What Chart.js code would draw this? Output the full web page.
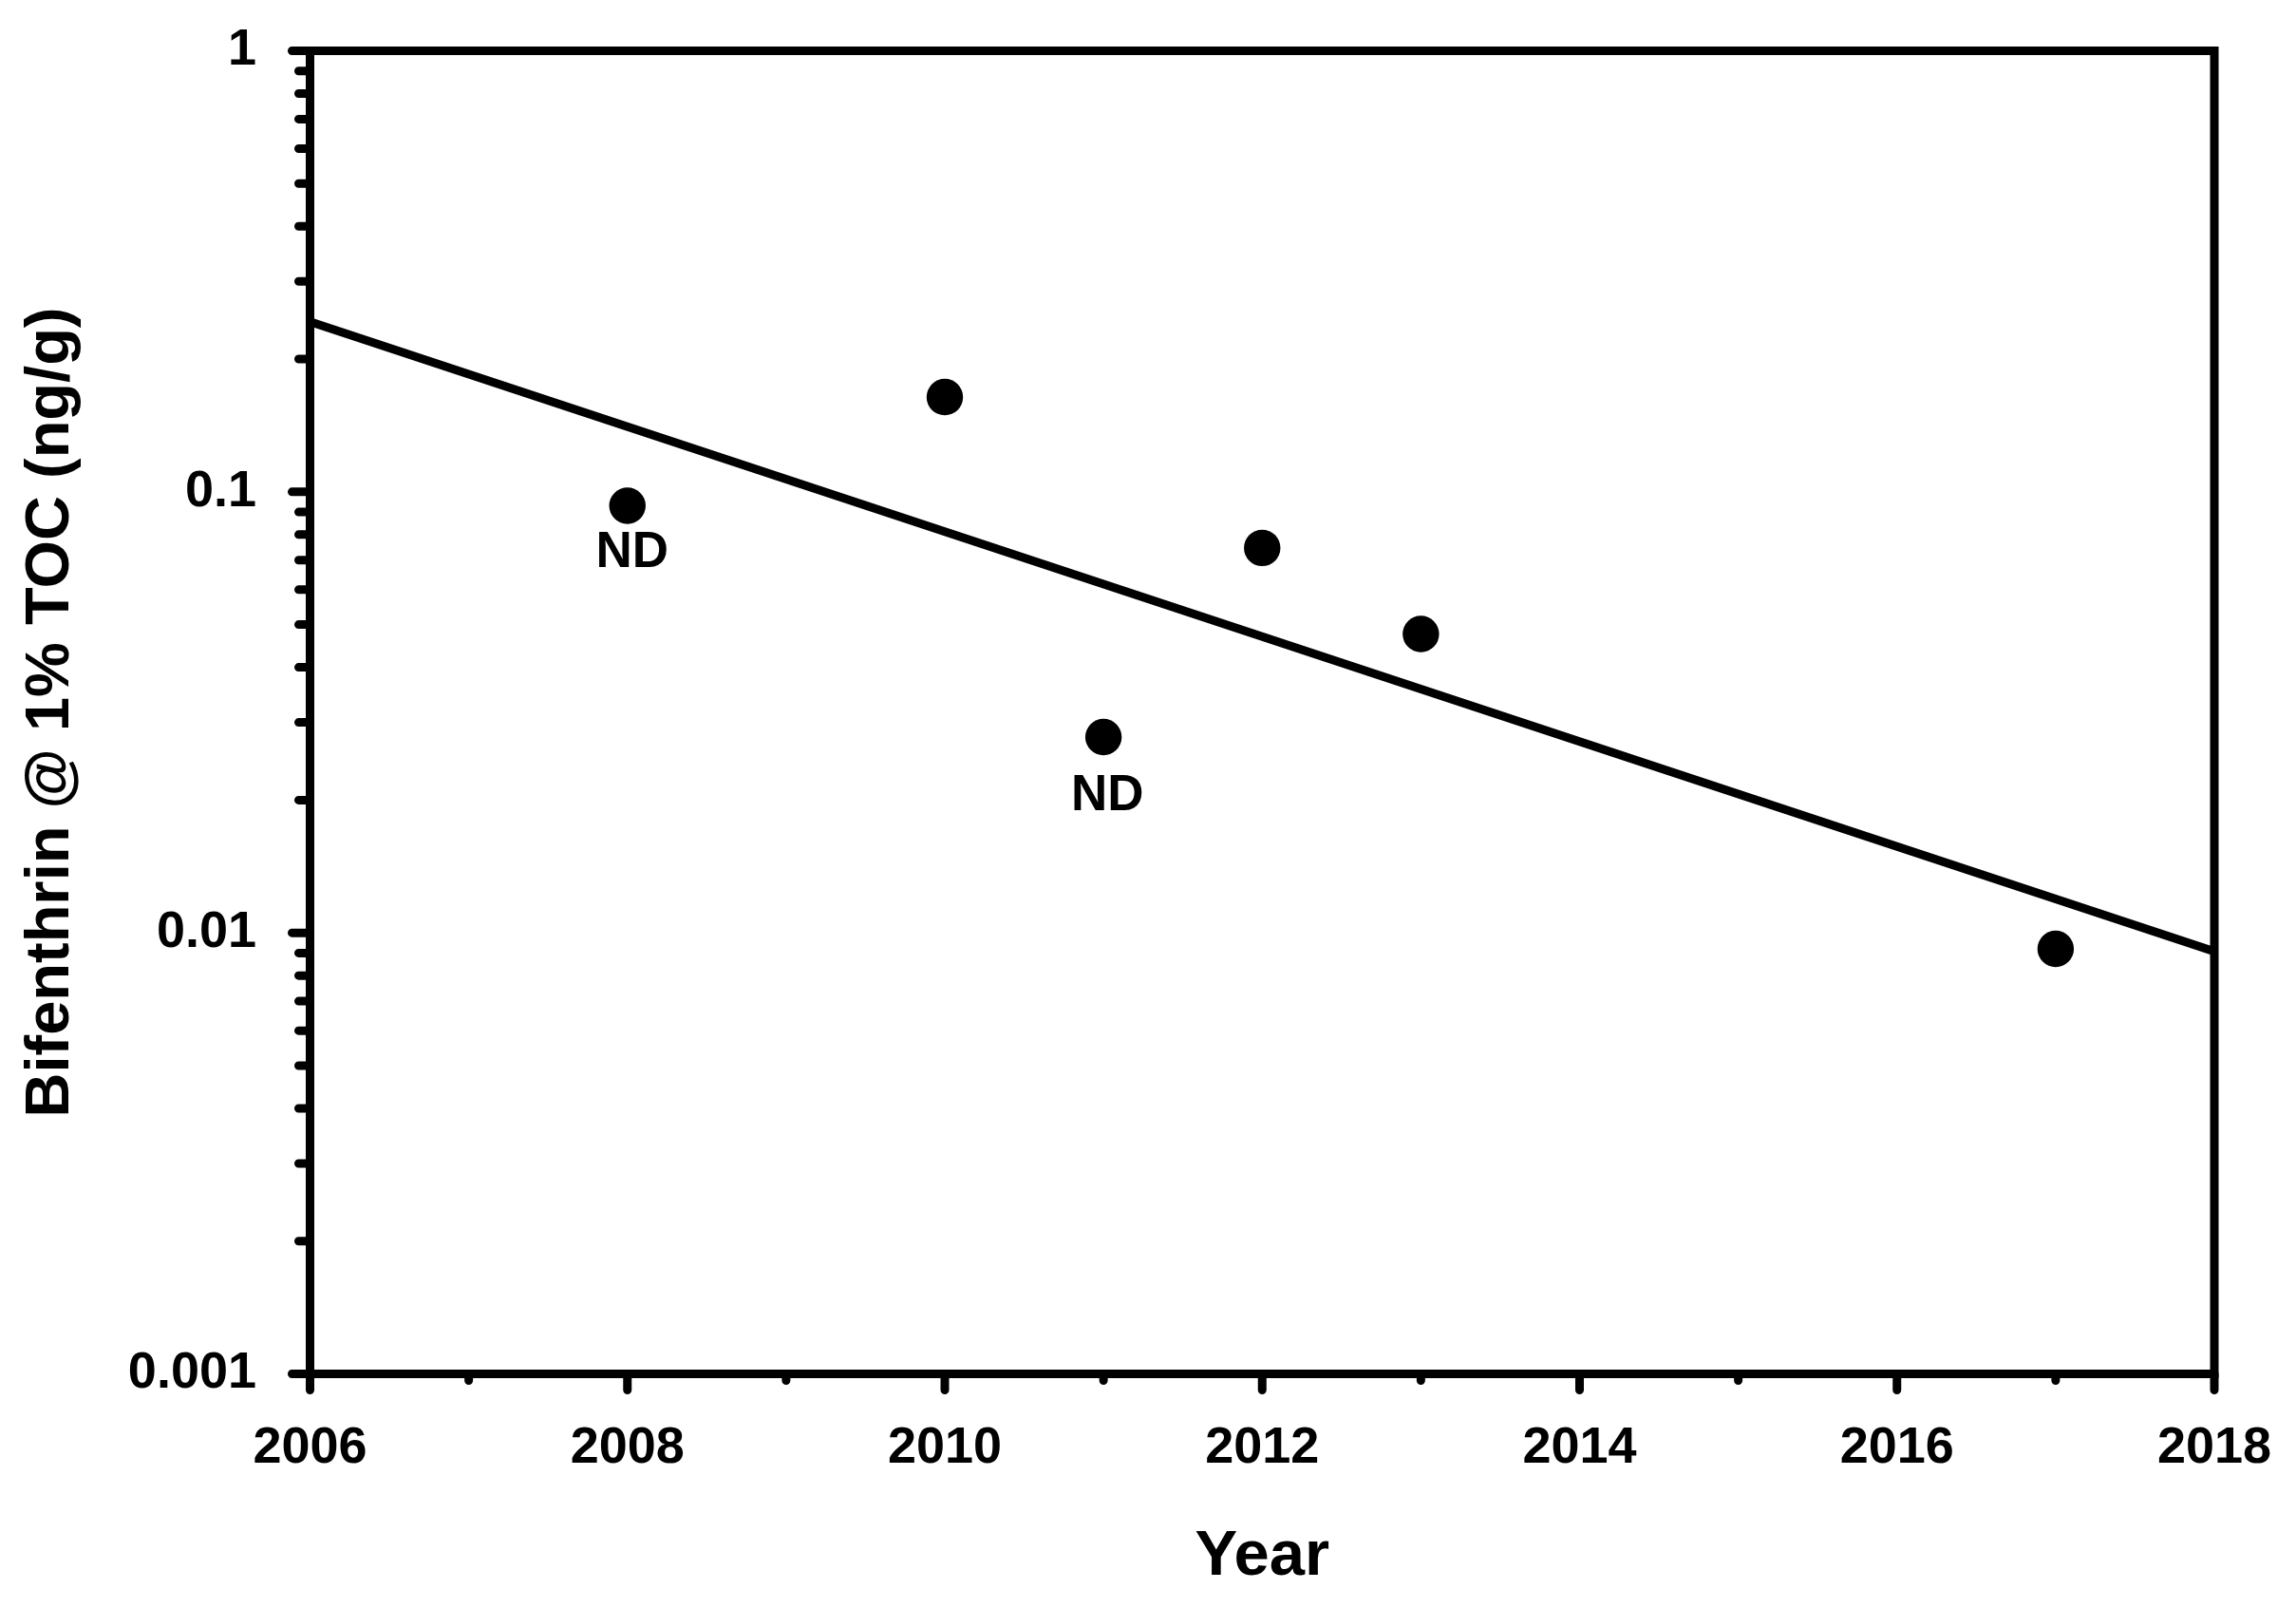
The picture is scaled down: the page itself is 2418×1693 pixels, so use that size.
<!DOCTYPE html>
<html>
<head>
<meta charset="utf-8">
<title>Bifenthrin</title>
<script src="https://cdn.jsdelivr.net/npm/chart.js@4.4.1/dist/chart.umd.min.js"></script>
<style>
	html, body { margin: 0; padding: 0; background: #fff; }
	#wrap { width: 2418px; height: 1693px; position: relative; }
</style>
</head>
<body>
<div id="wrap"><canvas id="ChartCanvas"></canvas></div>
<script>
// measured points, bifenthrin @ 1% TOC (ng/g)
var years = [2008, 2010, 2011, 2012, 2013, 2017];
var bifenthrin = [0.093, 0.164, 0.0278, 0.0746, 0.0476, 0.0092];

// trend line as read at the two plot edges
var trendYears = [2006, 2018];
var trendValues = [0.243, 0.00907];

// "ND" notes (not detected), anchored in data units
var ndText = ['ND', 'ND'];
var ndYears = [2008.03, 2011.025];
var ndValues = [0.0727, 0.0204];

var xMajorTicks = [2006, 2008, 2010, 2012, 2014, 2016, 2018];
var xMinorTicks = [2007, 2009, 2011, 2013, 2015, 2017];
var yMajorTicks = [0.001, 0.01, 0.1, 1];
var yTickLabels = ['0.001', '0.01', '0.1', '1'];
var yMinorSteps = [2, 3, 4, 5, 6, 7, 8, 9];

var FONT = '"Liberation Sans", Arial, Helvetica, sans-serif';

var yMinorTicks = [];
for(var d = 0; d < yMajorTicks.length - 1; d++) {
	for(var k = 0; k < yMinorSteps.length; k++) {
		yMinorTicks.push(yMajorTicks[d] * yMinorSteps[k]);
	}
}

var toPoints = function(xs, ys) {
	var out = [];
	for(var i = 0; i < xs.length; i++) out.push({x: xs[i], y: ys[i]});
	return out;
};

// scale label overhang would push the plot box inwards, drop it
var noOverhang = function(scale) {
	scale.paddingTop = 0;
	scale.paddingBottom = 0;
	scale.paddingLeft = 0;
	scale.paddingRight = 0;
};

var framePlugin = {
	id: 'frame',
	afterDraw: function(chart) {
		var ctx = chart.ctx;
		var a = chart.chartArea;
		var sx = chart.scales.x;
		var sy = chart.scales.y;
		ctx.save();
		ctx.strokeStyle = '#000';
		ctx.lineWidth = 9;
		ctx.lineCap = 'round';
		ctx.beginPath();
		sx.ticks.forEach(function(t) {
			var px = sx.getPixelForValue(t.value);
			var len = xMajorTicks.indexOf(t.value) != -1 ? 17 : 7;
			ctx.moveTo(px, a.bottom);
			ctx.lineTo(px, a.bottom + len);
		});
		sy.ticks.forEach(function(t) {
			var py = sy.getPixelForValue(t.value);
			var len = yMajorTicks.indexOf(t.value) != -1 ? 19 : 12;
			ctx.moveTo(a.left, py);
			ctx.lineTo(a.left - len, py);
		});
		ctx.stroke();
		ctx.lineCap = 'butt';
		ctx.lineJoin = 'miter';
		ctx.strokeRect(a.left, a.top, a.right - a.left, a.bottom - a.top);
		//
		ctx.fillStyle = '#000';
		ctx.font = 'bold 53px ' + FONT;
		ctx.textAlign = 'center';
		ctx.textBaseline = 'middle';
		for(var i = 0; i < ndText.length; i++) {
			ctx.fillText(ndText[i], sx.getPixelForValue(ndYears[i]), sy.getPixelForValue(ndValues[i]));
		}
		ctx.restore();
	}
};

var ctx = document.getElementById('ChartCanvas').getContext('2d');
window.myChart = new Chart(ctx, {
	type: 'scatter',
	data: {
		datasets: [{
			label: 'Bifenthrin',
			data: toPoints(years, bifenthrin),
			backgroundColor: '#000',
			borderWidth: 0,
			pointRadius: 19.2,
			pointHoverRadius: 19.2
		}, {
			type: 'line',
			label: 'Trend',
			data: toPoints(trendYears, trendValues),
			borderColor: '#000',
			borderWidth: 9,
			pointRadius: 0,
			fill: false
		}]
	},
	options: {
		responsive: true,
		maintainAspectRatio: false,
		animation: false,
		devicePixelRatio: 1,
		layout: { padding: { top: 53.5, right: 86, left: 0, bottom: 0 } },
		plugins: {
			legend: { display: false },
			tooltip: { enabled: false }
		},
		scales: {
			x: {
				type: 'linear',
				min: 2006,
				max: 2018,
				afterBuildTicks: function(scale) {
					scale.ticks = xMajorTicks.concat(xMinorTicks).sort().map(function(v) { return {value: v}; });
				},
				afterFit: function(scale) {
					scale.height = 246.5;
					noOverhang(scale);
				},
				border: { display: false },
				grid: { drawOnChartArea: false, drawTicks: true, tickLength: 21.5, tickColor: 'rgba(0,0,0,0)' },
				ticks: {
					autoSkip: false,
					maxRotation: 0,
					padding: 25,
					color: '#000',
					font: { family: FONT, size: 54, weight: 'bold' },
					callback: function(value) {
						return xMajorTicks.indexOf(value) != -1 ? String(value) : '';
					}
				},
				title: {
					display: true,
					text: 'Year',
					color: '#000',
					font: { family: FONT, size: 67, weight: 'bold' },
					padding: { top: 0, bottom: 13 }
				}
			},
			y: {
				type: 'logarithmic',
				min: 0.001,
				max: 1,
				afterBuildTicks: function(scale) {
					scale.ticks = yMajorTicks.concat(yMinorTicks).map(function(v) { return {value: v}; });
				},
				afterFit: function(scale) {
					scale.width = 326.5;
					noOverhang(scale);
				},
				border: { display: false },
				grid: { drawOnChartArea: false, drawTicks: true, tickLength: 23.5, tickColor: 'rgba(0,0,0,0)' },
				ticks: {
					autoSkip: false,
					padding: 33,
					color: '#000',
					font: { family: FONT, size: 54, weight: 'bold' },
					callback: function(value) {
						var i = yMajorTicks.indexOf(value);
						return i != -1 ? yTickLabels[i] : '';
					}
				},
				title: {
					display: true,
					text: 'Bifenthrin @ 1% TOC (ng/g)',
					color: '#000',
					font: { family: FONT, size: 65, weight: 'bold' },
					padding: { top: 15, bottom: 0 }
				}
			}
		}
	},
	plugins: [framePlugin]
});
</script>
</body>
</html>
